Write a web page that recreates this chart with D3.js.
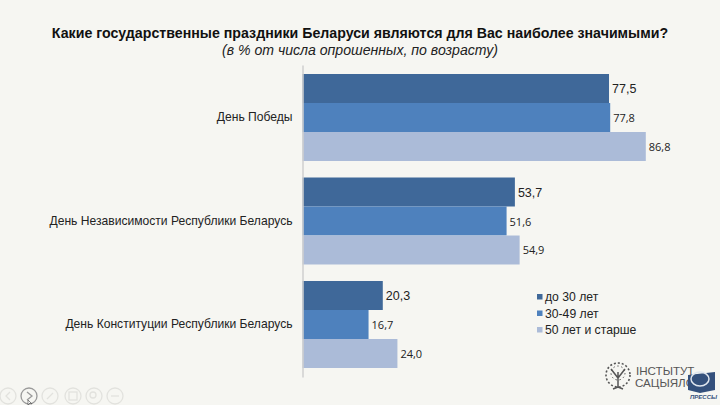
<!DOCTYPE html>
<html><head><meta charset="utf-8">
<script src="https://cdn.jsdelivr.net/npm/d3@7"></script>
<style>html,body{margin:0;padding:0;background:#f6f6f2}svg{display:block}</style>
</head><body><svg id="c" width="720" height="405"></svg>
<script>
const categories=["День Победы","День Независимости Республики Беларусь","День Конституции Республики Беларусь"];
const seriesNames=["до 30 лет","30-49 лет","50 лет и старше"];
const seriesColors=["#3f6899","#4e81bd","#abbbd8"];
const young=[77.5,53.7,20.3];
const middle=[77.8,51.6,16.7];
const old=[86.8,54.9,24.0];
const seriesValues=[young,middle,old];
const titleText="Какие государственные праздники Беларуси являются для Вас наиболее значимыми?";
const subtitleText="(в % от числа опрошенных, по возрасту)";
const fmt=v=>v.toFixed(1).replace(".",",");
const svg=d3.select("#c");
svg.append("rect").attr("width",720).attr("height",405).attr("fill","#f6f6f2");
const x=d3.scaleLinear().domain([0,100]).range([302.5,698]);
const y=d3.scaleBand().domain(categories).range([65,377]).paddingInner(0.1594).paddingOuter(0.087);
const sub=d3.scaleBand().domain([0,1,2]).range([0,y.bandwidth()]);
svg.append("text").attr("x",360).attr("y",38).attr("text-anchor","middle")
 .attr("font-family","Liberation Sans").attr("font-weight","bold").attr("font-size",14.2).attr("fill","#111").text(titleText);
svg.append("text").attr("x",360).attr("y",55).attr("text-anchor","middle")
 .attr("font-family","Liberation Sans").attr("font-style","italic").attr("font-size",14.1).attr("fill","#222").text(subtitleText);
seriesValues.forEach((vals,s)=>{
 const g=svg.append("g");
 g.selectAll("rect").data(vals).join("rect")
  .attr("x",x(0)).attr("y",(d,i)=>y(categories[i])+sub(s))
  .attr("width",d=>x(d)-x(0)).attr("height",sub.bandwidth()).attr("fill",seriesColors[s]);
 g.selectAll("text").data(vals).join("text")
  .attr("x",d=>x(d)+3).attr("y",(d,i)=>y(categories[i])+sub(s)+sub.bandwidth()/2+4.5)
  .attr("font-family",s===0?"Liberation Sans":"Open Sans").attr("font-size",s===0?12.5:11).attr("fill","#222").text(fmt);
});
const axis=svg.append("g").attr("transform",`translate(${x(0)},0)`).call(d3.axisLeft(y).tickSize(0).tickPadding(10));
axis.select(".domain").attr("stroke","#cfcfcf").attr("stroke-width",1.5);
axis.selectAll("text").attr("font-family","Liberation Sans").attr("font-size",12.1).attr("fill","#222");
seriesNames.forEach((n,i)=>{
 const ly=297+i*16.5;
 svg.append("rect").attr("x",537).attr("y",ly-3).attr("width",5.5).attr("height",5.5).attr("fill",seriesColors[i]);
 svg.append("text").attr("x",545).attr("y",ly+4).attr("font-family","Liberation Sans").attr("font-size",12.2).attr("fill","#222").text(n);
});
// logo
const logo=svg.append("g");
logo.append("text").attr("x",636).attr("y",375).attr("font-family","Liberation Sans").attr("font-size",11.6).attr("fill","#555").text("ІНСТЫТУТ");
logo.append("text").attr("x",635).attr("y",387).attr("font-family","Liberation Sans").attr("font-size",11.6).attr("fill","#555").text("САЦЫЯЛО");
const tree=logo.append("g").attr("stroke","#555").attr("fill","none").attr("stroke-width",1);
tree.append("circle").attr("cx",618).attr("cy",375).attr("r",12).attr("stroke-dasharray","2 2").attr("stroke-width",1.6);
tree.append("circle").attr("cx",618).attr("cy",373).attr("r",7).attr("stroke-dasharray","1.5 2.5");
tree.append("path").attr("stroke-width",1.5).attr("d","M618 387V372M618 378L611 369M618 378L625 369M618 387L613 389M618 387L623 389");
logo.append("path").attr("d","M688 375L715 372V390L700 393L688 390Z").attr("fill","#34507c");
logo.append("ellipse").attr("cx",700).attr("cy",379).attr("rx",9).attr("ry",7).attr("fill","none").attr("stroke","#dfe5ee").attr("stroke-width",1.5);
logo.append("text").attr("x",690).attr("y",399).attr("font-family","Liberation Sans").attr("font-size",6).attr("font-weight","bold").attr("font-style","italic").attr("fill","#34507c").text("ПРЕССЫ");
// player controls
const ctl=svg.append("g").attr("fill","none").attr("stroke","#e2e2de").attr("stroke-width",1.3);
[8,29,50,73,94,115].forEach((cx,i)=>ctl.append("circle").attr("cx",cx).attr("cy",396).attr("r",8).attr("stroke",i===1?"#9a9a9a":"#e2e2de"));
ctl.append("path").attr("d","M10 392L6 396L10 400");
ctl.append("path").attr("d","M27 392L32 396L27 400").attr("stroke","#9a9a9a");
ctl.append("path").attr("d","M47 399L53 393");
ctl.append("rect").attr("x",69).attr("y",392).attr("width",8).attr("height",8);
ctl.append("circle").attr("cx",93).attr("cy",395).attr("r",3);
ctl.append("path").attr("d","M111 396H119");
svg.append("path").attr("d","M28 400L28 405L30 403L32 404Z").attr("fill","#fff").attr("stroke","#555").attr("stroke-width",0.7);
</script></body></html>
